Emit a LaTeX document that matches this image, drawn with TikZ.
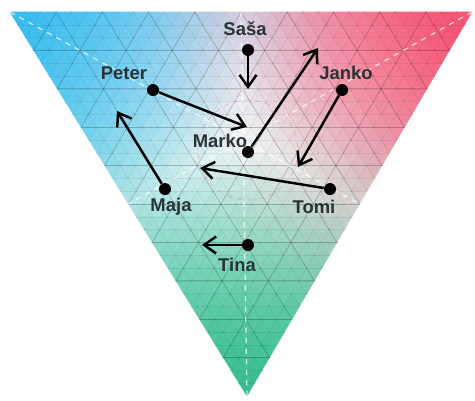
\documentclass[tikz,border=0pt]{standalone}
\usepackage{fontspec}
\setmainfont{Liberation Sans}
\usepackage{xcolor}
\usetikzlibrary{arrows.meta,calc}

\definecolor{cornerblue}{HTML}{38BCEE}
\definecolor{cornerred}{HTML}{F45474}
\definecolor{cornergreen}{HTML}{38BE92}
\definecolor{labelgray}{HTML}{2A3438}

\newcommand\setcellfill[3]{%
  \pgfmathsetmacro\wa{(#1)^3+0.0001}%
  \pgfmathsetmacro\wb{(#2)^3+0.0001}%
  \pgfmathsetmacro\wc{(#3)^3+0.0001}%
  \pgfmathsetmacro\pab{100*\wa/(\wa+\wb)}%
  \pgfmathsetmacro\pabc{100*(\wa+\wb)/(\wa+\wb+\wc)}%
  \pgfmathsetmacro\pw{100-92*((1-max((#1),(#2),(#3)))*1.5)^1.5}%
  \colorlet{cellab}{cornerblue!\pab!cornerred}%
  \colorlet{cellabc}{cellab!\pabc!cornergreen}%
  \colorlet{cellfill}{cellabc!\pw!white}%
}

\begin{document}
\begin{tikzpicture}[
  x=0.02cm,y=-0.02cm,
  person/.style={circle,fill=black,inner sep=0pt,minimum size=2.4mm},
  personname/.style={text=labelgray,font=\bfseries\fontsize{10.5}{12}\selectfont},
  movearrow/.style={-{Straight Barb[length=2.4mm,width=3.4mm]},line width=1.4pt},
  cell/.style={fill=cellfill,draw=cellfill,line width=0.3pt},
  gridfine/.style={black,opacity=0.07,line width=0.3pt},
  gridcoarse/.style={black,opacity=0.16,line width=0.4pt},
  median/.style={white,dashed,opacity=0.75,line width=0.7pt}
]
\useasboundingbox (0,0) rectangle (475,400);
\coordinate (tl) at (10,12);
\coordinate (tr) at (472,12);
\coordinate (bt) at (247,396);

\foreach \j in {0,...,29} {
  \pgfmathtruncatemacro\imax{29-\j}
  \foreach \i in {0,...,\imax} {
    \pgfmathsetmacro\u{(\i+1/3)/30}
    \pgfmathsetmacro\v{(\j+1/3)/30}
    \setcellfill{1-\u-\v}{\u}{\v}
    \path[cell] (barycentric cs:tl=30-\i-\j,tr=\i,bt=\j)
      -- (barycentric cs:tl=29-\i-\j,tr=\i+1,bt=\j)
      -- (barycentric cs:tl=29-\i-\j,tr=\i,bt=\j+1) -- cycle;
    \ifnum\i<\imax
      \pgfmathsetmacro\u{(\i+2/3)/30}
      \pgfmathsetmacro\v{(\j+2/3)/30}
      \setcellfill{1-\u-\v}{\u}{\v}
      \path[cell] (barycentric cs:tl=29-\i-\j,tr=\i+1,bt=\j)
        -- (barycentric cs:tl=28-\i-\j,tr=\i+1,bt=\j+1)
        -- (barycentric cs:tl=29-\i-\j,tr=\i,bt=\j+1) -- cycle;
    \fi
  }
}

\foreach \k [evaluate=\k as \t using \k/30] in {1,...,29} {
  \draw[gridfine] ($(tl)!\t!(bt)$) -- ($(tr)!\t!(bt)$);
  \draw[gridfine] ($(tl)!\t!(tr)$) -- ($(bt)!\t!(tr)$);
  \draw[gridfine] ($(tr)!\t!(tl)$) -- ($(bt)!\t!(tl)$);
}
\foreach \k [evaluate=\k as \t using \k/10] in {1,...,9} {
  \draw[gridcoarse] ($(tl)!\t!(bt)$) -- ($(tr)!\t!(bt)$);
  \draw[gridcoarse] ($(tl)!\t!(tr)$) -- ($(bt)!\t!(tr)$);
  \draw[gridcoarse] ($(tr)!\t!(tl)$) -- ($(bt)!\t!(tl)$);
}
\draw[median] (tl) -- ($(tr)!0.5!(bt)$);
\draw[median] (tr) -- ($(tl)!0.5!(bt)$);
\draw[median] (bt) -- ($(tl)!0.5!(tr)$);
\draw[cornerred,opacity=0.35,dashed] (248,150) circle (50);

\foreach \id/\nm/\dotxy/\labxy in {
  sasa/Saša/{248,50}/{245,29},
  peter/Peter/{153,90}/{124,73},
  janko/Janko/{342,90}/{346,73},
  marko/Marko/{248,152}/{220,141},
  maja/Maja/{165,189}/{171,207},
  tomi/Tomi/{330,189}/{314,207},
  tina/Tina/{248,245}/{237,265}} {
  \node[person] (\id) at (\dotxy) {};
  \node[personname] (\id-l) at (\labxy) {\nm};
}

\foreach \id/\endxy in {sasa/{248,89}, peter/{247,127}, janko/{298,167},
  marko/{318,48}, maja/{117,111}, tomi/{200,168}, tina/{202,245}} {
  \coordinate (\id-to) at (\endxy);
  \draw[movearrow] (\id) -- (\id-to);
}
\end{tikzpicture}
\end{document}
